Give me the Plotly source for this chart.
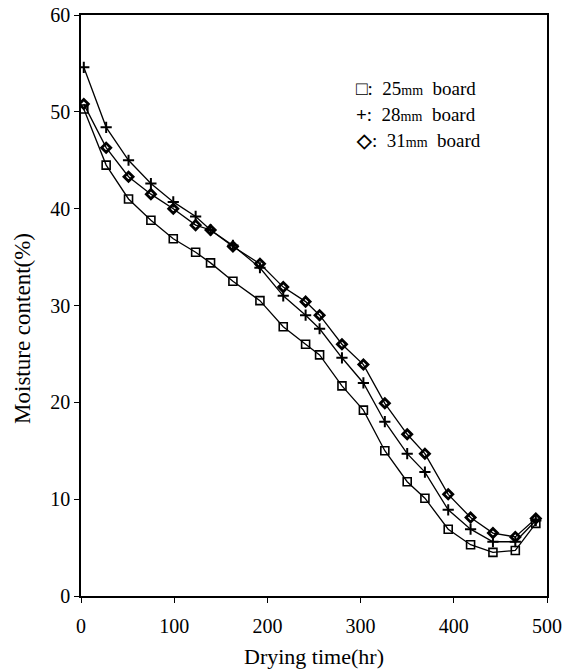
import plotly.graph_objects as go

# Drying time (hr) and moisture content (%) for three board thicknesses
drying_time = [3, 27, 51, 75, 99, 123, 139, 163, 192, 217, 241, 256, 280,
               303, 326, 350, 369, 394, 418, 442, 466, 488]
mc_25mm = [50.3, 44.5, 41.0, 38.8, 36.9, 35.5, 34.4, 32.5, 30.5, 27.8, 26.0,
           24.9, 21.7, 19.2, 15.0, 11.8, 10.1, 6.9, 5.3, 4.5, 4.7, 7.5]
mc_28mm = [54.6, 48.4, 45.0, 42.6, 40.7, 39.2, 37.8, 36.2, 33.9, 31.0, 29.0,
           27.6, 24.6, 22.0, 18.0, 14.7, 12.8, 8.9, 6.9, 5.6, 5.6, 7.8]
mc_31mm = [50.8, 46.3, 43.3, 41.5, 40.0, 38.3, 37.8, 36.1, 34.3, 31.9, 30.4,
           29.0, 26.0, 23.9, 19.9, 16.7, 14.7, 10.5, 8.1, 6.5, 6.1, 8.0]

x_ticks = [0, 100, 200, 300, 400, 500]
y_ticks = [0, 10, 20, 30, 40, 50, 60]

legend_lines = [("□", "25", "board"), ("+", "28", "board"), ("◇", "31", "board")]

FONT = "Liberation Serif, Times New Roman, serif"

fig = go.Figure()

series = [
    (mc_25mm, "square-open", 8, 1.6),
    (mc_28mm, "cross-thin-open", 8, 2.0),
    (mc_31mm, "diamond-open", 7, 2.8),
]
for values, symbol, size, lw in series:
    fig.add_trace(go.Scatter(
        x=drying_time, y=values, mode="lines+markers",
        line=dict(color="black", width=1.3),
        marker=dict(symbol=symbol, size=size, color="black",
                    line=dict(color="black", width=lw)),
        showlegend=False,
    ))

# key in the upper right of the plot area
for i, (sym, thick, rest) in enumerate(legend_lines):
    fig.add_annotation(
        x=0.585, y=0.874 - i * 0.045, xref="paper", yref="paper",
        xanchor="left", yanchor="middle", showarrow=False,
        text=f"<b>{sym}</b>:  {thick}<span style='font-size:14px'>mm</span>  {rest}",
        font=dict(family=FONT, size=19, color="black"),
    )

# vertical axis label, set a little below the middle of the axis
fig.add_annotation(
    x=-0.124, y=0.46, xref="paper", yref="paper", textangle=-90,
    xanchor="center", yanchor="middle", showarrow=False,
    text="Moisture content(%)",
    font=dict(family=FONT, size=23, color="black"),
)

fig.update_xaxes(
    range=[0, 500], tickvals=x_ticks, ticks="outside", ticklen=5,
    tickcolor="black", showline=True, linecolor="black", linewidth=1.5,
    mirror=True, showgrid=False, zeroline=False, ticklabelstandoff=6,
    automargin=False,
    tickfont=dict(family=FONT, size=20, color="black"),
    title=dict(text="Drying time(hr)", font=dict(family=FONT, size=22, color="black"),
               standoff=13),
)
fig.update_yaxes(
    range=[0, 60], tickvals=y_ticks, ticks="outside", ticklen=5,
    tickcolor="black", showline=True, linecolor="black", linewidth=1.5,
    mirror=True, showgrid=False, zeroline=False, automargin=False,
    tickfont=dict(family=FONT, size=20, color="black"),
)

fig.update_layout(
    width=567, height=670,
    margin=dict(l=81, r=20, t=15, b=74),
    plot_bgcolor="white", paper_bgcolor="white",
)

fig.write_html("out.html")
